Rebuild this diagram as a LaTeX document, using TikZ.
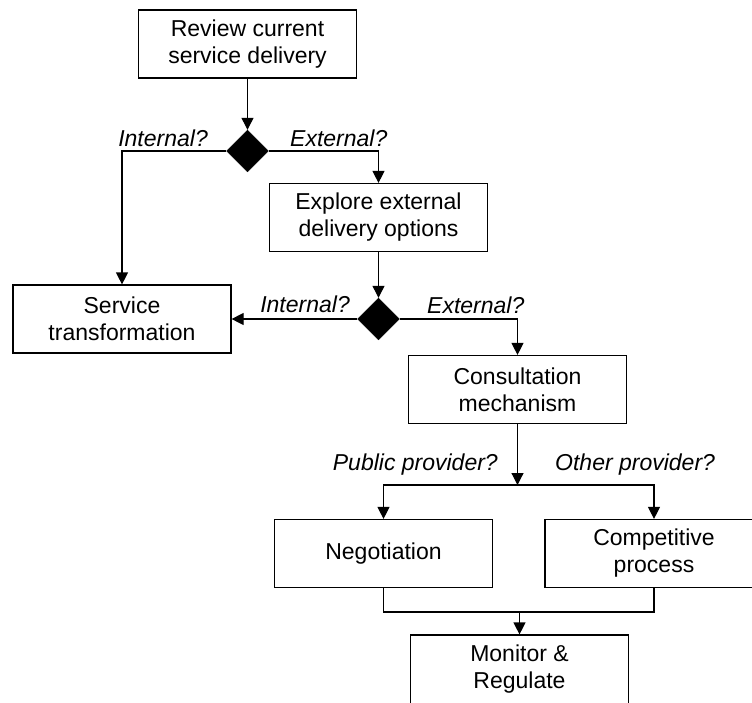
\documentclass[tikz,border=0pt]{standalone}
\usepackage{fontspec}
\setmainfont{Liberation Sans}
\usetikzlibrary{shapes.geometric,arrows.meta}
\begin{document}
\begin{tikzpicture}[x=1pt,y=-1pt,
  every node/.style={font=\fontsize{23}{27}\selectfont},
  stepbox/.style={draw,line width=1.2pt,align=center,inner sep=0pt,
                  minimum width=218pt,minimum height=68pt},
  choice/.style={diamond,fill=black,draw=black,inner sep=0pt,
                 minimum width=42pt,minimum height=42pt},
  flow/.style={line width=1.2pt},
  arr/.style={flow,-{Triangle[length=12pt,width=12pt]}},
  tag/.style={font=\fontsize{23}{27}\selectfont\itshape,inner sep=0pt}]
\useasboundingbox (0,0) rectangle (752,702);
\clip (0,0) rectangle (752,702);

% process steps
\node[stepbox] (review)  at (247.5,44)  {Review current\\service delivery};
\node[stepbox] (explore) at (378.5,217.5) {Explore external\\delivery options};
\node[stepbox] (service) at (122,319)   {Service\\transformation};
\node[stepbox] (consult) at (517.5,389.5) {Consultation\\mechanism};
\node[stepbox] (negot)   at (383.5,553.5) {Negotiation};
\node[stepbox] (compet)  at (654,553.5) {Competitive\\process};
\node[stepbox,minimum height=69pt] (monitor) at (519.5,669.5) {Monitor \&\\Regulate};

% decisions
\node[choice] (d1) at (247.5,151) {};
\node[choice] (d2) at (378.5,319) {};

% branch and merge points
\coordinate (split) at (517.5,485);
\coordinate (join)  at (519.5,612);

% connectors
\draw[arr] (review.south) -- (d1.north);
\draw[arr] (d1.west) -| (service.north);
\draw[arr] (d1.east) -| (explore.north);
\draw[arr] (explore.south) -- (d2.north);
\draw[arr] (d2.west) -- (service.east);
\draw[arr] (d2.east) -| (consult.north);
\draw[arr] (consult.south) -- (split);
\draw[arr] (split) -| (negot.north);
\draw[arr] (split) -| (compet.north);
\draw[flow] (negot.south) |- (join);
\draw[flow] (compet.south) |- (join);
\draw[arr] (join) -- (monitor.north);

% branch labels
\node[tag,anchor=base east] (l1) at (208,146) {Internal?};
\node[tag,anchor=base west] (l2) at (290,146) {External?};
\node[tag,anchor=base east] (l3) at (350,312) {Internal?};
\node[tag,anchor=base west] (l4) at (427,313) {External?};
\node[tag,anchor=base east] (l5) at (498,470) {Public provider?};
\node[tag,anchor=base west] (l6) at (555,470) {Other provider?};
\end{tikzpicture}
\end{document}
